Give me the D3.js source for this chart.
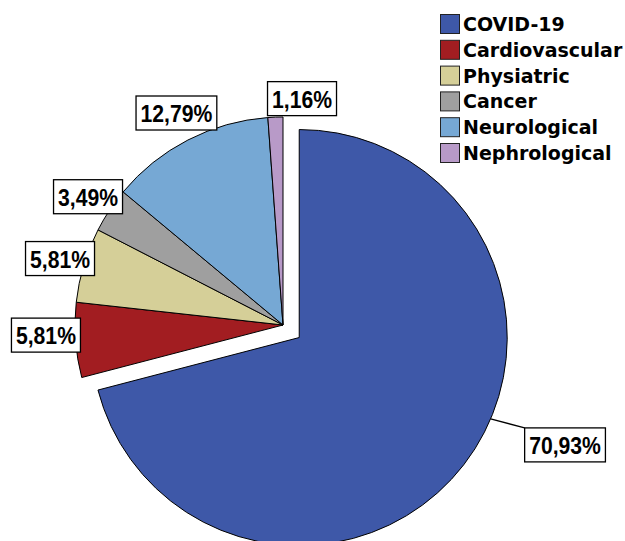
<!DOCTYPE html>
<html><head><meta charset="utf-8">
<script src="https://cdnjs.cloudflare.com/ajax/libs/d3/7.8.5/d3.min.js"></script>
<style>html,body{margin:0;padding:0;background:#fff;overflow:hidden}</style>
</head><body>
<svg id="chart" width="625" height="541"></svg>
<script>
const categories = ["COVID-19","Cardiovascular","Physiatric","Cancer","Neurological","Nephrological"];
const values = [70.93, 5.81, 5.81, 3.49, 12.79, 1.16];
const labels = ["70,93%","5,81%","5,81%","3,49%","12,79%","1,16%"];
const colors = ["#3E58A8","#A21D21","#D5CF98","#9F9F9F","#76A8D4","#B89AC8"];

// layout (not data)
const cx = 283, cy = 325, R = 208, explode = 20.5;
const labelOffsets = [[0,0],[-29.6,-5],[-23.8,-6.5],[-21.5,-13.5],[-11.5,-27],[26.6,-18.5]];

const svg = d3.select("#chart");
const pie = d3.pie().sort(null).value(d => d)(values);
const arc = d3.arc().innerRadius(0).outerRadius(R);

const g = svg.append("g").attr("transform", `translate(${cx},${cy})`);

function offsetOf(d, i) {
  if (i !== 0) return [0, 0];
  const m = (d.startAngle + d.endAngle) / 2;
  return [Math.sin(m) * explode, -Math.cos(m) * explode];
}

g.selectAll("path.slice").data(pie).join("path")
  .attr("class", "slice")
  .attr("d", arc)
  .attr("transform", (d, i) => { const o = offsetOf(d, i); return `translate(${o[0]},${o[1]})`; })
  .attr("fill", (d, i) => colors[i])
  .attr("stroke", "#000")
  .attr("stroke-width", 1);

// labels
const lab = g.append("g").attr("font-family", "Liberation Sans, Arial, sans-serif")
  .attr("font-weight", "bold").attr("font-size", 23);

pie.forEach((d, i) => {
  const o = offsetOf(d, i);
  const m = (d.startAngle + d.endAngle) / 2;
  let ax = o[0] + Math.sin(m) * R, ay = o[1] - Math.cos(m) * R;
  const lg = lab.append("g");
  const t = lg.append("text").text(labels[i]).attr("text-anchor", "middle").attr("dominant-baseline", "central");
  const tw = t.node().getComputedTextLength() * 0.92;
  t.attr("textLength", tw).attr("lengthAdjust", "spacingAndGlyphs");
  const w = tw + 9, h = 34;
  let bx, by;
  if (i === 0) {
    // leader line from arc edge
    const la = d.startAngle + (d.endAngle - d.startAngle) * 0.4426;
    const sx = o[0] + Math.sin(la) * R, sy = o[1] - Math.cos(la) * R;
    bx = sx + 34 + w / 2; by = sy + 9 + h / 2;
    lab.insert("line", ":first-child").attr("x1", sx).attr("y1", sy).attr("x2", sx + 34).attr("y2", sy + 9)
      .attr("stroke", "#000").attr("stroke-width", 1.3);
  } else {
    bx = ax + labelOffsets[i][0]; by = ay + labelOffsets[i][1];
  }
  lg.insert("rect", "text").attr("x", bx - w / 2).attr("y", by - h / 2).attr("width", w).attr("height", h)
    .attr("fill", "#fff").attr("stroke", "#000").attr("stroke-width", 1.3);
  t.attr("x", bx).attr("y", by + 1);
});

// legend
const leg = svg.append("g").attr("transform", "translate(440,14)");
const rows = leg.selectAll("g").data(categories).join("g")
  .attr("transform", (d, i) => `translate(0,${i * 25.8})`);
rows.append("rect").attr("x", 0.5).attr("y", 0.5).attr("width", 19).attr("height", 19)
  .attr("fill", (d, i) => colors[i]).attr("stroke", "#222").attr("stroke-width", 1);
rows.append("text").attr("x", 23).attr("y", 10).attr("dominant-baseline", "central")
  .attr("font-family", "DejaVu Sans, Verdana, sans-serif").attr("font-weight", "bold")
  .attr("font-size", 19).attr("fill", "#000").text(d => d);
</script>
</body></html>
